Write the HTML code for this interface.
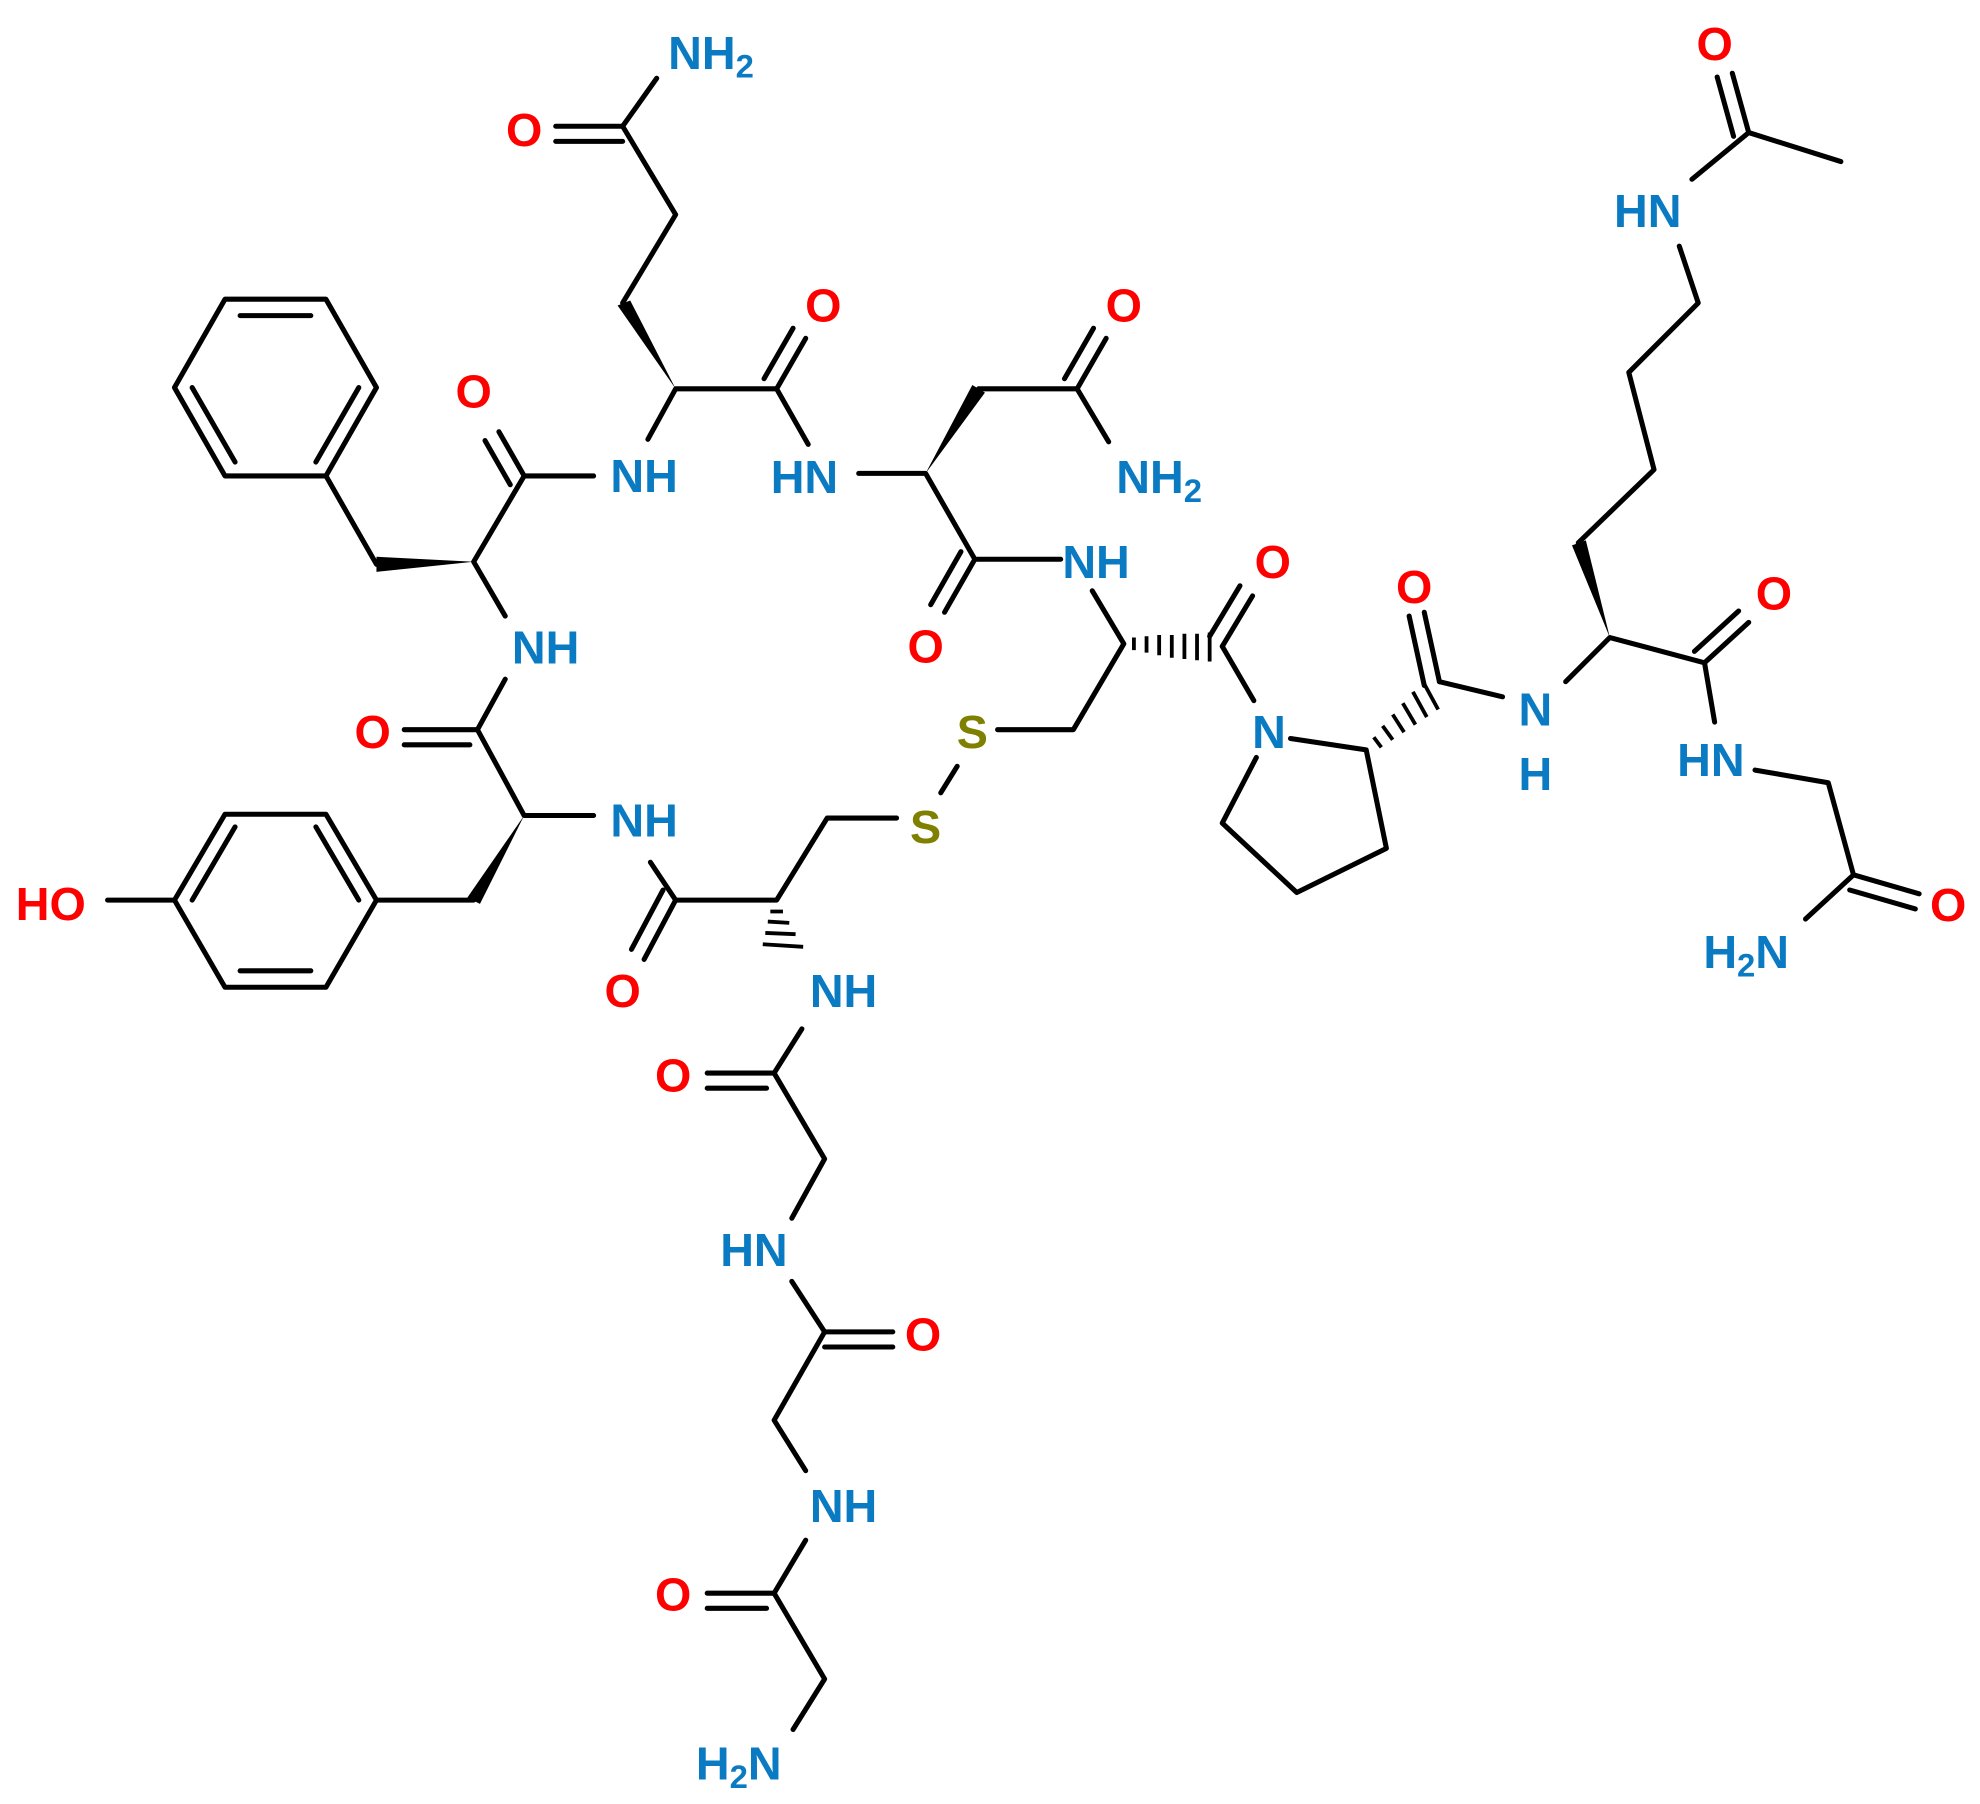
<!DOCTYPE html>
<html><head><meta charset="utf-8"><style>
html,body{margin:0;padding:0;background:#fff}
svg{display:block}
text{font-family:"Liberation Sans",Arial,sans-serif;font-weight:bold;font-size:37px;dominant-baseline:central;text-anchor:middle}
.n{fill:#0a7bc2}.o{fill:#ff0000}.s{fill:#808000}
</style></head><body>
<svg width="1980" height="1804" viewBox="0 0 1568 1429" xmlns="http://www.w3.org/2000/svg">
<g stroke="#000" stroke-width="4" fill="none" stroke-linecap="round" stroke-linejoin="round">
<!-- Gln -->
<path d="M493,100 L520,62 M493,100 L535,170 L493,240"/>
<path d="M440,100 L493,100 M440,112 L493,112"/>
<path d="M535,308 L615,308 L640,352 M535,308 L513,348"/>
<path d="M615,308 L638,268 M605,300 L628,260"/>
<!-- Phe -->
<path d="M470,377 L415,377 L375,445 L400,488"/>
<path d="M415,377 L395,342 M404,384 L384,349"/>
<path d="M298,447 L258,377"/>
<path d="M258,377 L178,377 L138,307 L178,237 L258,237 L298,307 Z"/>
<path d="M190,250 L246,250 M152,307 L186,366 M284,307 L250,366"/>
<!-- Tyr backbone -->
<path d="M400,538 L378,578 L415,646 L470,646"/>
<path d="M320,578 L378,578 M320,590 L372,590"/>
<path d="M375,713 L298,713"/>
<path d="M298,713 L258,645 L178,645 L138,713 L178,782 L258,782 Z M138,713 L85,713"/>
<path d="M152,713 L186,655 M284,713 L250,655 M190,769 L246,769"/>
<!-- Cys1 -->
<path d="M515,683 L535,713 L615,713 L655,648 L710,648"/>
<path d="M535,713 L510,760 M525,705 L500,752"/>
<path d="M745,628 L758,607 M790,578 L850,578 L890,510 L865,468"/>
<!-- Gly chain -->
<path d="M635,815 L613,850 L653,918 L627,965"/>
<path d="M560,850 L613,850 M560,862 L607,862"/>
<path d="M627,1015 L653,1055 L613,1125 L638,1165"/>
<path d="M653,1055 L707,1055 M653,1067 L707,1067"/>
<path d="M638,1220 L613,1262 L653,1330 L628,1370"/>
<path d="M560,1262 L613,1262 M560,1274 L607,1274"/>
<!-- Asn -->
<path d="M680,375 L733,375 L772,443 L840,443"/>
<path d="M775,308 L853,308 L878,350"/>
<path d="M853,308 L876,268 M843,300 L866,260"/>
<path d="M772,443 L748,485 M761,437 L737,479"/>
<!-- Cys2 C=O, Pro -->
<path d="M968,512 L993,555"/>
<path d="M968,512 L992,472 M958,504 L982,464"/>
<path d="M1022,585 L1082,594 L1098,672 L1027,707 L968,652 L995,600"/>
<path d="M1140,540 L1190,552"/>
<path d="M1140,540 L1128,485 M1128,543 L1116,488"/>
<path d="M1240,540 L1275,505 L1350,525 L1358,572"/>
<path d="M1350,525 L1385,493 M1342,516 L1377,484"/>
<path d="M1250,430 L1310,372 L1290,295 L1345,240 L1330,195"/>
<path d="M1340,142 L1385,105 L1458,128 M1385,105 L1372,58 M1373,108 L1360,61"/>
<path d="M1390,610 L1448,620 L1468,693 L1430,728"/>
<path d="M1468,693 L1520,708 M1465,705 L1517,720"/>
</g>
<!-- wedges -->
<g fill="#000">
<polygon points="535,308 489,242 499,238"/>
<polygon points="375,445 298,441 298,453"/>
<polygon points="415,646 370,711 380,716"/>
<polygon points="733,375 770,305 780,311"/>
<polygon points="1275,505 1245,432 1256,428"/>
</g>
<g stroke="#000" stroke-width="3">
<path d="M620,722 L610,722 M625,731 L608,730 M630,740 L606,739 M636,750 L604,748"/>
<path d="M898,505 L898,515 M908,504 L908,517 M918,503 L918,519 M928,503 L928,521 M938,502 L938,522 M948,502 L948,523 M958,501 L958,524"/>
<path d="M1088,584 L1094,592 M1095,575 L1103,586 M1103,566 L1112,580 M1111,557 L1121,574 M1119,548 L1130,568 M1127,540 L1139,562"/>
</g>
<text x="563" y="42" class="n">NH<tspan font-size="26" dy="10">2</tspan></text>
<text x="415" y="103" class="o">O</text>
<text x="652" y="242" class="o">O</text>
<text x="510" y="377" class="n">NH</text>
<text x="637" y="378" class="n">HN</text>
<text x="375" y="310" class="o">O</text>
<text x="890" y="242" class="o">O</text>
<text x="918" y="378" class="n">NH<tspan font-size="26" dy="10">2</tspan></text>
<text x="432" y="513" class="n">NH</text>
<text x="868" y="445" class="n">NH</text>
<text x="733" y="512" class="o">O</text>
<text x="1008" y="445" class="o">O</text>
<text x="1120" y="465" class="o">O</text>
<text x="1405" y="470" class="o">O</text>
<text x="1358" y="35" class="o">O</text>
<text x="1305" y="167" class="n">HN</text>
<text x="295" y="580" class="o">O</text>
<text x="770" y="580" class="s">S</text>
<text x="733" y="655" class="s">S</text>
<text x="1005" y="580" class="n">N</text>
<text x="1216" y="562" class="n">N</text>
<text x="1216" y="613" class="n">H</text>
<text x="1355" y="602" class="n">HN</text>
<text x="510" y="650" class="n">NH</text>
<text x="40" y="716" class="o">HO</text>
<text x="1543" y="717" class="o">O</text>
<text x="1383" y="754" class="n">H<tspan font-size="26" dy="10">2</tspan><tspan dy="-10">N</tspan></text>
<text x="493" y="785" class="o">O</text>
<text x="668" y="785" class="n">NH</text>
<text x="533" y="852" class="o">O</text>
<text x="597" y="990" class="n">HN</text>
<text x="731" y="1057" class="o">O</text>
<text x="668" y="1193" class="n">NH</text>
<text x="533" y="1263" class="o">O</text>
<text x="585" y="1397" class="n">H<tspan font-size="26" dy="10">2</tspan><tspan dy="-10">N</tspan></text>
</svg>
</body></html>
